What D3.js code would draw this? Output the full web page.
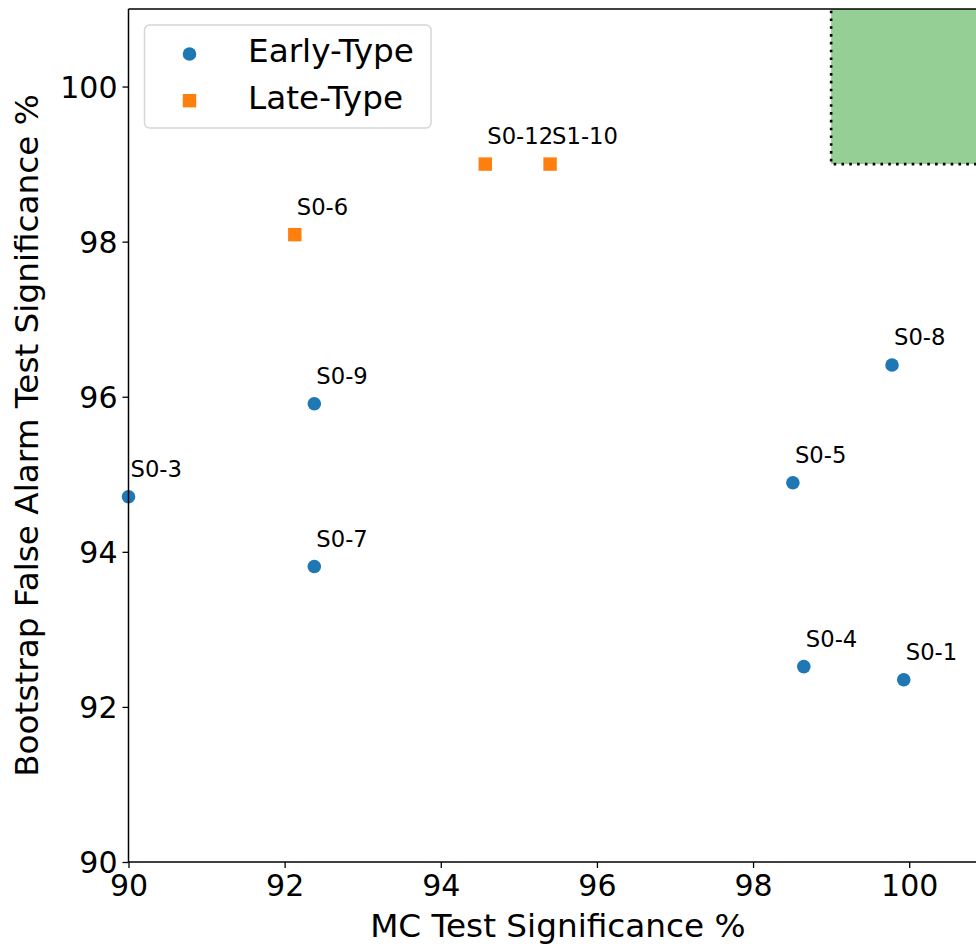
<!DOCTYPE html>
<html>
<head>
<meta charset="utf-8">
<script src="https://cdn.jsdelivr.net/npm/d3@7"></script>
<style>
  html, body { margin: 0; padding: 0; background: #fff; }
  svg { display: block; font-family: "DejaVu Sans", sans-serif; }
</style>
</head>
<body>
<svg id="chart" width="976" height="947"></svg>
<script>
// ---- data ----
const earlyNames = ["S0-3", "S0-9", "S0-7", "S0-5", "S0-8", "S0-4", "S0-1"];
const earlyMC    = [90.00, 92.38, 92.38, 98.51, 99.78, 98.65, 99.93];
const earlyBoot  = [94.71, 95.91, 93.81, 94.89, 96.41, 92.52, 92.35];

const lateNames = ["S0-6", "S0-12", "S1-10"];
const lateMC    = [92.13, 94.57, 95.40];
const lateBoot  = [98.09, 99.00, 99.00];

const xDomain = [90, 101];
const yDomain = [90, 101];
const tickValues = [90, 92, 94, 96, 98, 100];
const regionX = [99, 101];
const regionY = [99, 101];
const legendLabels = ["Early-Type", "Late-Type"];

// ---- layout ----
const svg = d3.select("#chart");
const mLeft = 128.5, mTop = 9, mBottom = 862;
const unit = 78.07;
const mRight = mLeft + (xDomain[1] - xDomain[0]) * unit;
const bigFont = 32.7;

const x = d3.scaleLinear().domain(xDomain).range([mLeft, mRight]);
const y = d3.scaleLinear().domain(yDomain).range([mBottom, mTop]);

const blue = "#1f77b4", orange = "#ff7f0e", green = "#2ca02c";

svg.append("defs").append("clipPath").attr("id", "clip")
  .append("rect").attr("x", mLeft).attr("y", mTop)
  .attr("width", mRight - mLeft).attr("height", mBottom - mTop);

const plot = svg.append("g").attr("clip-path", "url(#clip)");

// green region
plot.append("rect")
  .attr("x", x(regionX[0])).attr("y", y(regionY[1]))
  .attr("width", x(regionX[1]) - x(regionX[0]))
  .attr("height", y(regionY[0]) - y(regionY[1]))
  .attr("fill", green).attr("fill-opacity", 0.5);
plot.append("path")
  .attr("d", `M${x(regionX[1]) + 5},${y(regionY[0])} L${x(regionX[0])},${y(regionY[0])} L${x(regionX[0])},${y(regionY[1]) - 5}`)
  .attr("fill", "none").attr("stroke", "#000").attr("stroke-width", 2.6)
  .attr("stroke-dasharray", "2.6,5.2");

// points
const early = earlyNames.map((n, i) => ({ n, x: earlyMC[i], y: earlyBoot[i] }));
const late = lateNames.map((n, i) => ({ n, x: lateMC[i], y: lateBoot[i] }));

const ptsG = svg.append("g");
ptsG.selectAll("circle.e").data(early).join("circle")
  .attr("cx", d => x(d.x)).attr("cy", d => y(d.y)).attr("r", 6.8).attr("fill", blue);
const sq = 13.4;
ptsG.selectAll("rect.l").data(late).join("rect")
  .attr("x", d => x(d.x) - sq / 2).attr("y", d => y(d.y) - sq / 2)
  .attr("width", sq).attr("height", sq).attr("fill", orange);

// labels
svg.append("g").selectAll("text").data(early.concat(late)).join("text")
  .attr("x", d => x(d.x) + 2).attr("y", d => y(d.y) - 20)
  .attr("font-size", 22.7).attr("fill", "#000").text(d => d.n);

// axes
const xAxis = d3.axisBottom(x).tickValues(tickValues).tickSize(6).tickPadding(5).tickFormat(d3.format("d"));
const yAxis = d3.axisLeft(y).tickValues(tickValues).tickSize(6).tickPadding(5).tickFormat(d3.format("d"));

const gx = svg.append("g").attr("transform", `translate(0,${mBottom})`).call(xAxis);
const gy = svg.append("g").attr("transform", `translate(${mLeft},0)`).call(yAxis);
[gx, gy].forEach(g => {
  g.select(".domain").remove();
  g.selectAll(".tick line").attr("stroke", "#000").attr("stroke-width", 1.3);
  g.selectAll(".tick text").attr("font-size", 30).attr("fill", "#000")
    .attr("font-family", "DejaVu Sans");
});
gx.selectAll(".tick text").attr("dy", "0.78em");
gy.selectAll(".tick text").attr("dy", "0.36em");

// spines
svg.append("line").attr("x1", mLeft).attr("x2", mLeft).attr("y1", mTop).attr("y2", mBottom)
  .attr("stroke", "#000").attr("stroke-width", 1.5);
svg.append("line").attr("x1", mLeft).attr("x2", 976).attr("y1", mBottom).attr("y2", mBottom)
  .attr("stroke", "#000").attr("stroke-width", 1.5);
svg.append("line").attr("x1", mLeft).attr("x2", 976).attr("y1", mTop).attr("y2", mTop)
  .attr("stroke", "#000").attr("stroke-width", 1.5);

// axis labels
svg.append("text").attr("x", (mLeft + mRight) / 2).attr("y", 937)
  .attr("text-anchor", "middle").attr("font-size", bigFont).text("MC Test Significance %");
svg.append("text").attr("transform", `translate(38,${(mTop + mBottom) / 2}) rotate(-90)`)
  .attr("text-anchor", "middle").attr("font-size", bigFont)
  .text("Bootstrap False Alarm Test Significance %");

// legend
const lg = svg.append("g");
lg.append("rect").attr("x", 144.5).attr("y", 25).attr("width", 286.5).attr("height", 103)
  .attr("rx", 5).attr("fill", "#fff").attr("fill-opacity", 0.8)
  .attr("stroke", "#d6d6d6").attr("stroke-width", 1.5);
lg.append("circle").attr("cx", 189.5).attr("cy", 54).attr("r", 6.8).attr("fill", blue);
lg.append("rect").attr("x", 189.5 - sq / 2).attr("y", 100.7 - sq / 2).attr("width", sq).attr("height", sq).attr("fill", orange);
lg.selectAll("text.lt").data(legendLabels).join("text")
  .attr("x", 248).attr("y", (d, i) => 61.5 + i * 47)
  .attr("font-size", bigFont).attr("fill", "#000").text(d => d);
</script>
</body>
</html>
